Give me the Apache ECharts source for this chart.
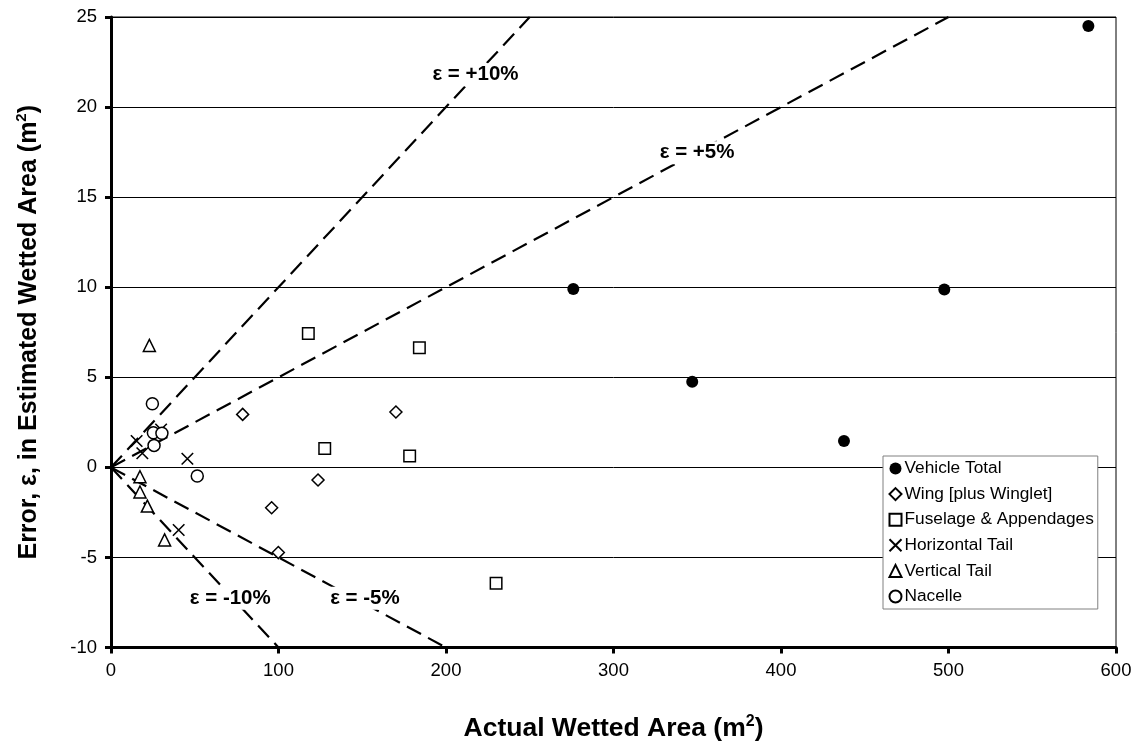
<!DOCTYPE html>
<html>
<head>
<meta charset="utf-8">
<script src="https://cdn.jsdelivr.net/npm/echarts@6/dist/echarts.min.js"></script>
<style>
html,body{margin:0;padding:0;background:#fff;}
#chart{width:1138px;height:747px;}
</style>
</head>
<body>
<div id="chart"></div>
<script>
// ---- data ----
var seriesNames = ['Vehicle Total','Wing [plus Winglet]','Fuselage & Appendages','Horizontal Tail','Vertical Tail','Nacelle'];
var vehicleTotal = [[276,9.9],[347,4.75],[437.6,1.46],[497.5,9.87],[583.5,24.5]];
var wing = [[78.6,2.94],[170.1,3.07],[123.6,-0.70],[95.9,-2.24],[99.9,-4.73]];
var fuselage = [[117.8,7.43],[184.1,6.64],[127.6,1.04],[178.3,0.63],[229.9,-6.43]];
var horizontalTail = [[15.3,1.46],[18.7,0.78],[29.9,2.1],[45.6,0.48],[40.4,-3.48]];
var verticalTail = [[22.9,6.77],[17.3,-0.52],[17.3,-1.37],[21.7,-2.15],[32.0,-4.03]];
var nacelle = [[24.7,3.53],[25.3,1.92],[30.4,1.89],[25.7,1.22],[51.5,-0.48]];
// reference error lines (endpoints)
var linePlus10 = [[0,0],[250,25]];
var linePlus5 = [[0,0],[500,25]];
var lineMinus5 = [[0,0],[200,-10]];
var lineMinus10 = [[0,0],[100,-10]];
var lineLabels = ['ε = +10%','ε = +5%','ε = -5%','ε = -10%'];
var xTicks = [0,100,200,300,400,500,600];
var yTicks = [-10,-5,0,5,10,15,20,25];

var FONT = '"Liberation Sans", Arial, sans-serif';
var chart = echarts.init(document.getElementById('chart'), null, {renderer:'canvas'});

function dashed(data){
  return {type:'line', data:data, symbol:'none', silent:true, z:1,
    lineStyle:{color:'#000', width:2.2, type:[16,8]}};
}
var hollow = {color:'#fff', borderColor:'#000', borderWidth:1.5, opacity:1};
var xPath = 'path://M0,0L10,10M10,0L0,10';

var option = {
  animation:false,
  backgroundColor:'#fff',
  textStyle:{fontFamily:FONT},
  grid:{left:111, right:22, top:17, bottom:99, show:true, borderColor:'#000', borderWidth:1, backgroundColor:'transparent'},
  xAxis:{
    type:'value', min:xTicks[0], max:xTicks[xTicks.length-1], interval:100,
    axisLine:{show:true, onZero:false, lineStyle:{color:'#000', width:3}},
    axisTick:{show:true, length:6, lineStyle:{color:'#000', width:3}},
    axisLabel:{color:'#000', fontSize:18.5, fontFamily:FONT, margin:14},
    splitLine:{show:false},
    name:'{a|Actual Wetted Area (m}{s|2}{a|)}',
    nameLocation:'middle', nameGap:66,
    nameTextStyle:{rich:{
      a:{fontSize:26.5, fontWeight:'bold', color:'#000', fontFamily:FONT, lineHeight:30},
      s:{fontSize:16, fontWeight:'bold', color:'#000', fontFamily:FONT, verticalAlign:'top', lineHeight:30}
    }}
  },
  yAxis:{
    type:'value', min:yTicks[0], max:yTicks[yTicks.length-1], interval:5,
    axisLine:{show:true, onZero:false, lineStyle:{color:'#000', width:3}},
    axisTick:{show:true, length:6, lineStyle:{color:'#000', width:3}},
    axisLabel:{color:'#000', fontSize:18.5, fontFamily:FONT, margin:14},
    splitLine:{show:true, lineStyle:{color:'#000', width:1}},
    name:'{a|Error, ε, in Estimated Wetted Area (m}{s|2}{a|)}',
    nameLocation:'middle', nameGap:67,
    nameTextStyle:{rich:{
      a:{fontSize:25, fontWeight:'bold', color:'#000', fontFamily:FONT, lineHeight:30},
      s:{fontSize:15, fontWeight:'bold', color:'#000', fontFamily:FONT, verticalAlign:'top', lineHeight:30}
    }}
  },
  legend:{
    data:seriesNames,
    orient:'vertical', left:883, top:456,
    backgroundColor:'#fff', borderColor:'#808080', borderWidth:1,
    padding:[4,4,4,4], itemGap:8.6, itemWidth:12, itemHeight:12,
    textStyle:{fontSize:17.3, lineHeight:17, color:'#000', fontFamily:FONT, padding:[0,0,0,-2]}
  },
  series:[
    dashed(linePlus10), dashed(linePlus5), dashed(lineMinus5), dashed(lineMinus10),
    {type:'scatter', silent:true, z:2, symbolSize:1, itemStyle:{color:'rgba(0,0,0,0)', opacity:1},
      label:{show:true, position:'inside', formatter:'{b}', color:'#000', fontWeight:'bold', fontSize:20.5,
        fontFamily:FONT, backgroundColor:'#fff', padding:[1,2], opacity:1},
      data:[
        {name:lineLabels[0], value:[217.6,21.8]},
        {name:lineLabels[1], value:[349.9,17.47]},
        {name:lineLabels[2], value:[151.6,-7.27]},
        {name:lineLabels[3], value:[71.2,-7.27]}
      ]},
    {name:seriesNames[0], type:'scatter', z:5, symbol:'circle', symbolSize:12, itemStyle:{color:'#000', opacity:1}, data:vehicleTotal},
    {name:seriesNames[1], type:'scatter', z:5, symbol:'diamond', symbolSize:12, itemStyle:hollow, data:wing},
    {name:seriesNames[2], type:'scatter', z:5, symbol:'rect', symbolSize:11.5, itemStyle:hollow, data:fuselage},
    {name:seriesNames[3], type:'scatter', z:5, symbol:xPath, symbolSize:11.5, itemStyle:{color:'none', borderColor:'#000', borderWidth:1.6, opacity:1}, data:horizontalTail},
    {name:seriesNames[4], type:'scatter', z:5, symbol:'triangle', symbolSize:12, itemStyle:hollow, data:verticalTail},
    {name:seriesNames[5], type:'scatter', z:5, symbol:'circle', symbolSize:12, itemStyle:hollow, data:nacelle}
  ]
};
chart.setOption(option);
</script>
</body>
</html>
